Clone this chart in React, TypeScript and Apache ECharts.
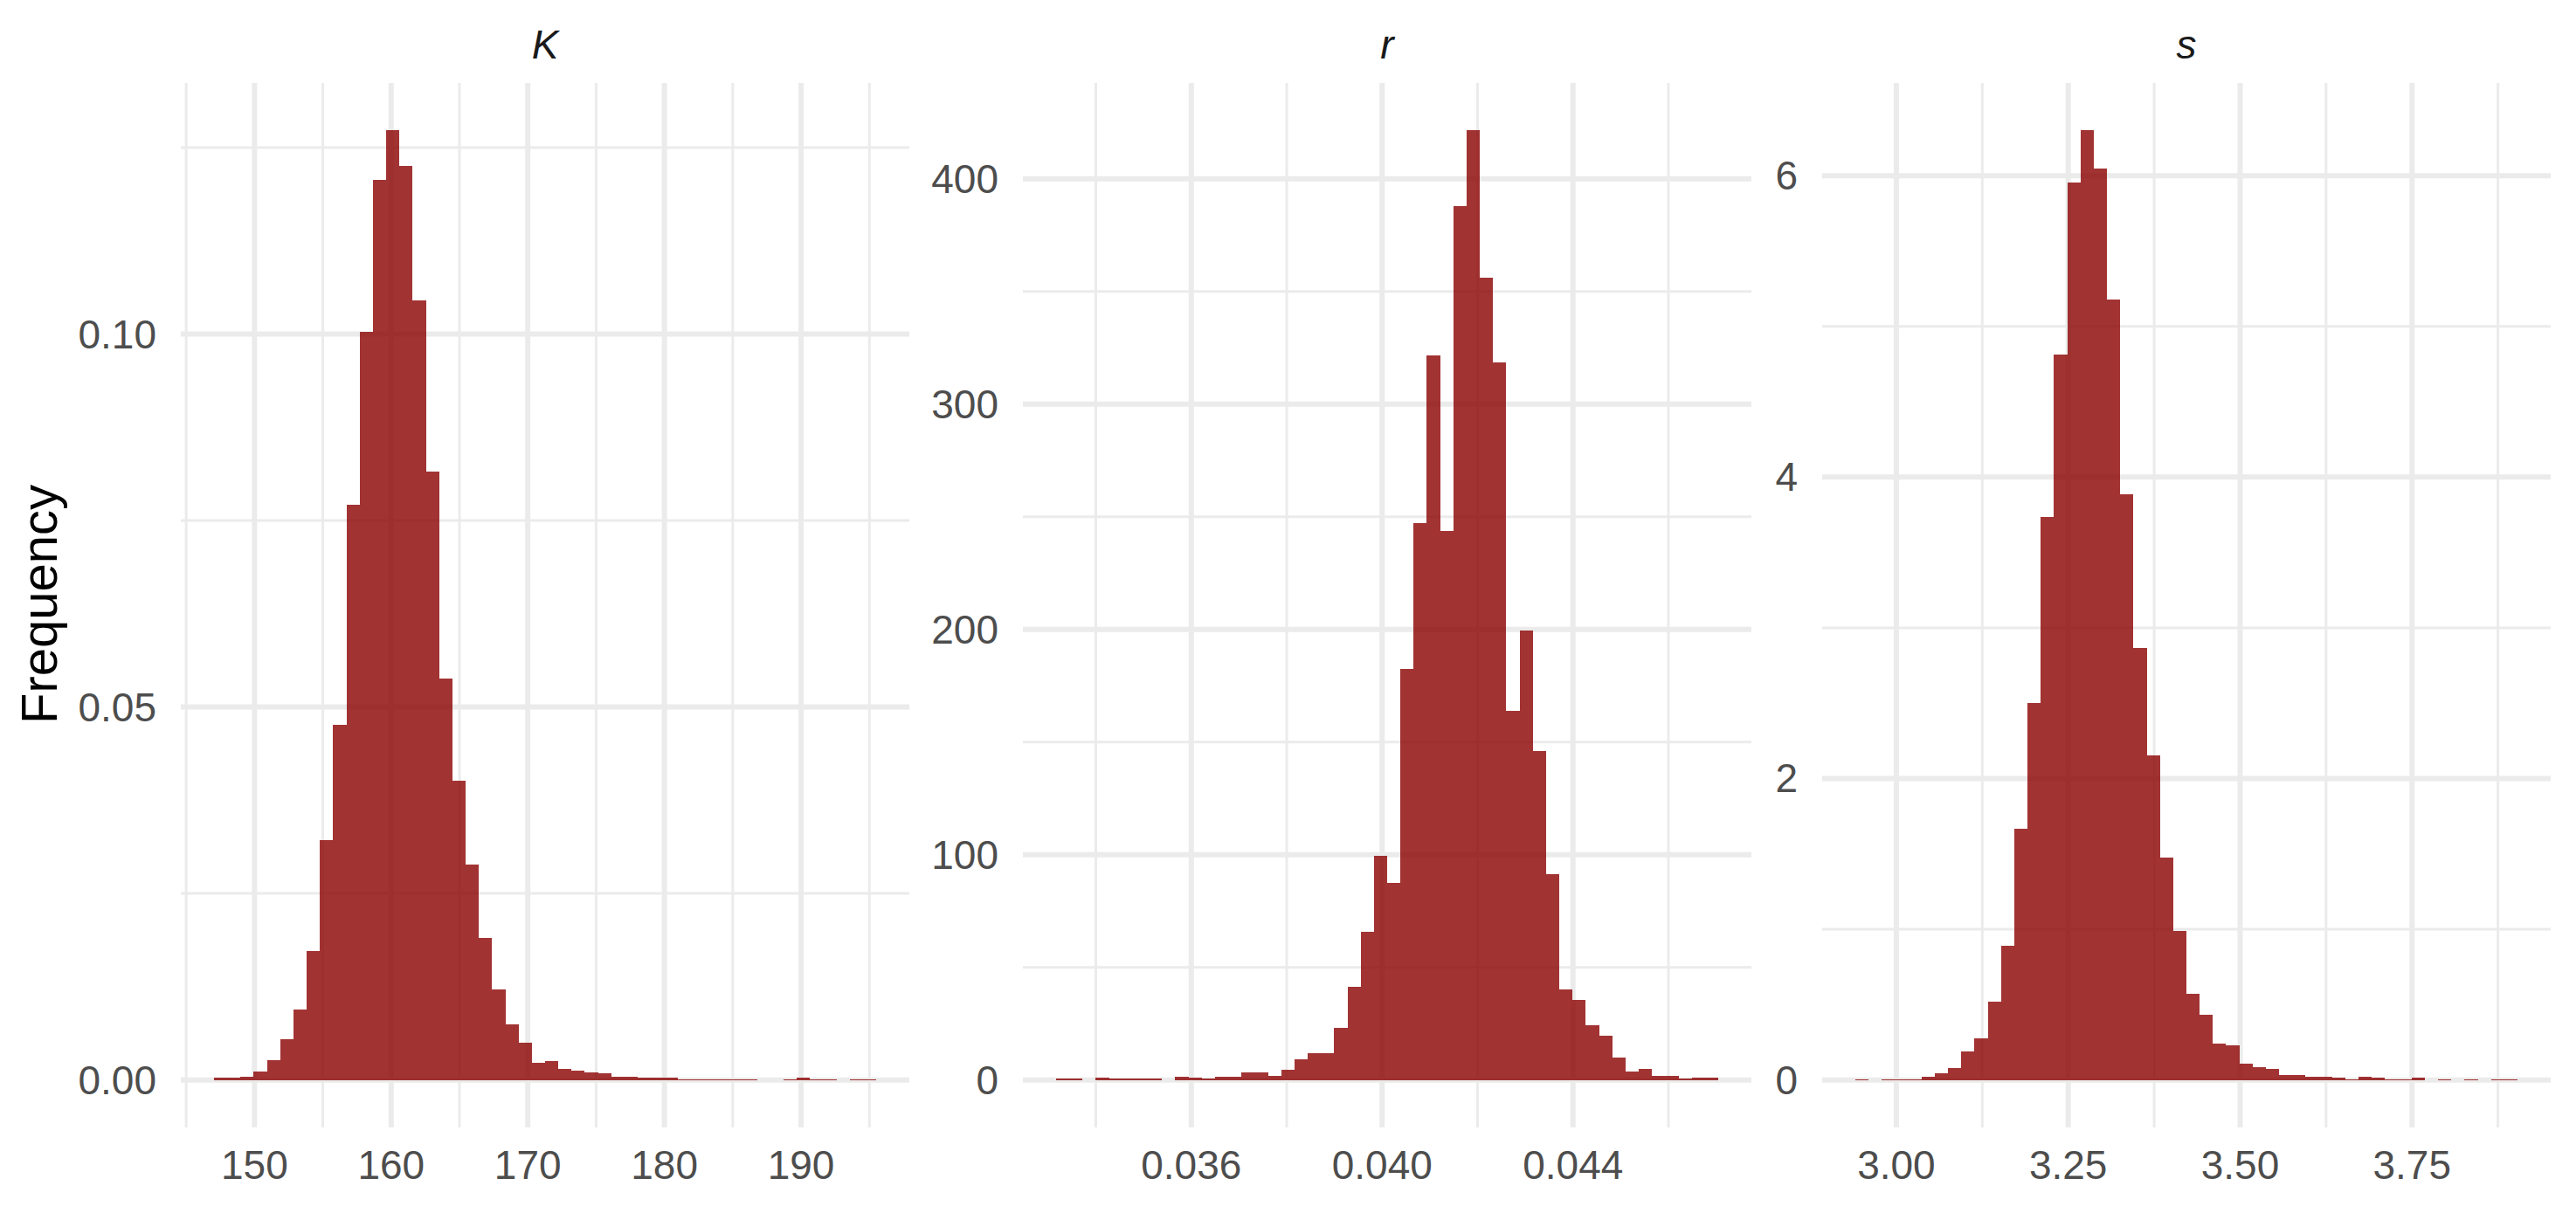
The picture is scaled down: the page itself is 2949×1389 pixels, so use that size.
import React, { useEffect, useRef } from "react";
import * as echarts from "echarts";

// ---- Data (densities, 50 bins each) ----
const kDensity = [
  0.00026, 0.00026, 0.00039, 0.00113, 0.0026, 0.0055, 0.0094, 0.0173, 0.0321, 0.0476,
  0.0771, 0.1003, 0.1207, 0.1273, 0.1225, 0.1045, 0.0816, 0.0538, 0.0401, 0.0289,
  0.019, 0.0121, 0.0074, 0.005, 0.0023, 0.0025, 0.0015, 0.0013, 0.001, 0.00086,
  0.00043, 0.00043, 0.0003, 0.0003, 0.0003, 0.00013, 0.00013, 0.00013, 0.00013, 0.00013,
  0.00013, 0, 0, 0.00013, 0.00026, 0.00013, 0.00013, 0, 0.00013, 0.00013,
];
const kBinStart = 147.03;
const kBinWidth = 0.9694;

const rDensity = [
  0.45, 0.45, 0, 0.9, 0.45, 0.45, 0.45, 0.45, 0, 1.35,
  0.9, 0.45, 1.35, 1.35, 3.4, 3.4, 1.8, 4.5, 9.0, 11.7,
  11.7, 23.3, 41.2, 65.9, 99.4, 87.5, 182.4, 247.2, 321.6, 243.8,
  387.8, 421.5, 356.3, 318.5, 163.9, 199.4, 146, 91.5, 40.3, 35.5,
  24.4, 19.6, 9.9, 3.6, 4.9, 1.8, 1.8, 0.45, 0.9, 0.9,
];
const rBinStart = 0.033165;
const rBinWidth = 0.0002776;

const sDensity = [
  0.0065, 0, 0.0065, 0.0065, 0.0065, 0.019, 0.045, 0.078, 0.187, 0.277,
  0.518, 0.888, 1.666, 2.503, 3.736, 4.811, 5.954, 6.3, 6.048, 5.176,
  3.884, 2.864, 2.155, 1.475, 0.986, 0.574, 0.433, 0.244, 0.23, 0.11,
  0.085, 0.072, 0.035, 0.035, 0.02, 0.02, 0.015, 0.0065, 0.02, 0.013,
  0.0065, 0.0065, 0.013, 0, 0.0065, 0, 0.0065, 0, 0.0065, 0.0065,
];
const sBinStart = 2.9403;
const sBinWidth = 0.019264;

// ---- Breaks / tick labels ----
const kXMajor = [150, 160, 170, 180, 190];
const kXMinor = [145, 155, 165, 175, 185, 195];
const kYMajor = [0, 0.05, 0.1];
const kYMinor = [0.025, 0.075, 0.125];

const rXMajor = [0.036, 0.04, 0.044];
const rXMinor = [0.034, 0.038, 0.042, 0.046];
const rYMajor = [0, 100, 200, 300, 400];
const rYMinor = [50, 150, 250, 350];

const sXMajor = [3.0, 3.25, 3.5, 3.75];
const sXMinor = [3.125, 3.375, 3.625, 3.875];
const sYMajor = [0, 2, 4, 6];
const sYMinor = [1, 3, 5];

const panelTitles = ["K", "r", "s"];
const yTitle = "Frequency";

// ---- Layout / style ----
const PANEL_LEFTS = [207, 1171, 2086];
const PANEL_W = 834;
const PANEL_TOP = 95;
const PANEL_H = 1196;
const BAR_FILL = "rgba(139,0,0,0.8)";
const GRID_COLOR = "#EBEBEB";
const FONT = "'Liberation Sans', Arial, Helvetica, sans-serif";

type Panel = {
  title: string;
  density: number[];
  binStart: number;
  binWidth: number;
  xMajor: number[];
  xMinor: number[];
  yMajor: number[];
  yMinor: number[];
  xFmt: (v: number) => string;
  yFmt: (v: number) => string;
};

const panels: Panel[] = [
  {
    title: panelTitles[0], density: kDensity, binStart: kBinStart, binWidth: kBinWidth,
    xMajor: kXMajor, xMinor: kXMinor, yMajor: kYMajor, yMinor: kYMinor,
    xFmt: (v) => String(Math.round(v)), yFmt: (v) => v.toFixed(2),
  },
  {
    title: panelTitles[1], density: rDensity, binStart: rBinStart, binWidth: rBinWidth,
    xMajor: rXMajor, xMinor: rXMinor, yMajor: rYMajor, yMinor: rYMinor,
    xFmt: (v) => v.toFixed(3), yFmt: (v) => String(Math.round(v)),
  },
  {
    title: panelTitles[2], density: sDensity, binStart: sBinStart, binWidth: sBinWidth,
    xMajor: sXMajor, xMinor: sXMinor, yMajor: sYMajor, yMinor: sYMinor,
    xFmt: (v) => v.toFixed(2), yFmt: (v) => String(Math.round(v)),
  },
];

function buildOption() {
  const grids: any[] = [];
  const xAxes: any[] = [];
  const yAxes: any[] = [];
  const series: any[] = [];
  const graphics: any[] = [];

  panels.forEach((p, i) => {
    const n = p.density.length;
    const dataMin = p.binStart;
    const dataMax = p.binStart + n * p.binWidth;
    const xr = dataMax - dataMin;
    const xMin = dataMin - 0.05 * xr;
    const xMax = dataMax + 0.05 * xr;
    const yTop = Math.max(...p.density);
    const yMin = -0.05 * yTop;
    const yMax = yTop * 1.05;

    grids.push({ left: PANEL_LEFTS[i], top: PANEL_TOP, width: PANEL_W, height: PANEL_H });

    xAxes.push({
      type: "value",
      gridIndex: i,
      min: xMin,
      max: xMax,
      axisLine: { show: false },
      axisTick: { show: false },
      splitLine: { show: false },
      minorSplitLine: { show: false },
      axisLabel: {
        customValues: p.xMajor,
        formatter: (v: number) => p.xFmt(v),
        color: "#4D4D4D",
        fontSize: 46,
        fontFamily: FONT,
        margin: 20,
      },
    });

    yAxes.push({
      type: "value",
      gridIndex: i,
      min: yMin,
      max: yMax,
      axisLine: { show: false },
      axisTick: { show: false },
      splitLine: { show: false },
      axisLabel: {
        customValues: p.yMajor,
        formatter: (v: number) => p.yFmt(v),
        color: "#4D4D4D",
        fontSize: 46,
        fontFamily: FONT,
        margin: 28,
      },
    });

    // grid lines: [value, orientation (0 = vertical, 1 = horizontal), major flag]
    const gridData: number[][] = [
      ...p.xMinor.map((v) => [v, 0, 0]),
      ...p.yMinor.map((v) => [v, 1, 0]),
      ...p.xMajor.map((v) => [v, 0, 1]),
      ...p.yMajor.map((v) => [v, 1, 1]),
    ];
    series.push({
      type: "custom",
      xAxisIndex: i,
      yAxisIndex: i,
      z: 1,
      silent: true,
      data: gridData,
      encode: { x: [], y: [] },
      renderItem: (params: any, api: any) => {
        const v = api.value(0);
        const orient = api.value(1);
        const major = api.value(2);
        const cs = params.coordSys;
        const lw = major ? 6 : 3;
        if (orient === 0) {
          const px = api.coord([v, 0])[0];
          return {
            type: "line",
            shape: { x1: px, y1: cs.y, x2: px, y2: cs.y + cs.height },
            style: { stroke: GRID_COLOR, lineWidth: lw },
          };
        }
        const py = api.coord([xMin, v])[1];
        return {
          type: "line",
          shape: { x1: cs.x, y1: py, x2: cs.x + cs.width, y2: py },
          style: { stroke: GRID_COLOR, lineWidth: lw },
        };
      },
    });

    // histogram bars: [bin left, bin right, density]
    const barData = p.density.map((d, j) => [
      p.binStart + j * p.binWidth,
      p.binStart + (j + 1) * p.binWidth,
      d,
    ]);
    series.push({
      type: "custom",
      xAxisIndex: i,
      yAxisIndex: i,
      z: 2,
      silent: true,
      data: barData,
      encode: { x: [0, 1], y: 2 },
      renderItem: (params: any, api: any) => {
        const x0 = api.value(0);
        const x1 = api.value(1);
        const d = api.value(2);
        if (!(d > 0)) return null;
        const p0 = api.coord([x0, 0]);
        const p1 = api.coord([x1, d]);
        // snap to whole pixels so neighbouring bars share edges without seams
        const left = Math.round(p0[0]);
        const right = Math.round(p1[0]);
        const base = Math.round(p0[1]);
        const top = Math.min(Math.round(p1[1]), base - 1);
        return {
          type: "rect",
          shape: { x: left, y: top, width: right - left, height: base - top },
          style: { fill: BAR_FILL },
        };
      },
    });

    graphics.push({
      type: "text",
      x: PANEL_LEFTS[i] + PANEL_W / 2,
      y: 51,
      style: {
        text: p.title,
        fill: "#1A1A1A",
        font: `italic 46px ${FONT}`,
        align: "center",
        verticalAlign: "middle",
      },
    });
  });

  graphics.push({
    type: "text",
    x: 44,
    y: 692,
    rotation: Math.PI / 2,
    style: {
      text: yTitle,
      fill: "#000000",
      font: `58px ${FONT}`,
      align: "center",
      verticalAlign: "middle",
    },
  });

  return {
    animation: false,
    backgroundColor: "#FFFFFF",
    grid: grids,
    xAxis: xAxes,
    yAxis: yAxes,
    series,
    graphic: graphics,
  };
}

export default function App() {
  const ref = useRef<HTMLDivElement>(null);
  useEffect(() => {
    if (!ref.current) return;
    const chart = echarts.init(ref.current, null, { renderer: "svg" });
    chart.setOption(buildOption() as any);
    return () => chart.dispose();
  }, []);
  return (
    <div
      ref={ref}
      style={{ position: "fixed", left: 0, top: 0, width: 2949, height: 1389, background: "#FFFFFF" }}
    />
  );
}
